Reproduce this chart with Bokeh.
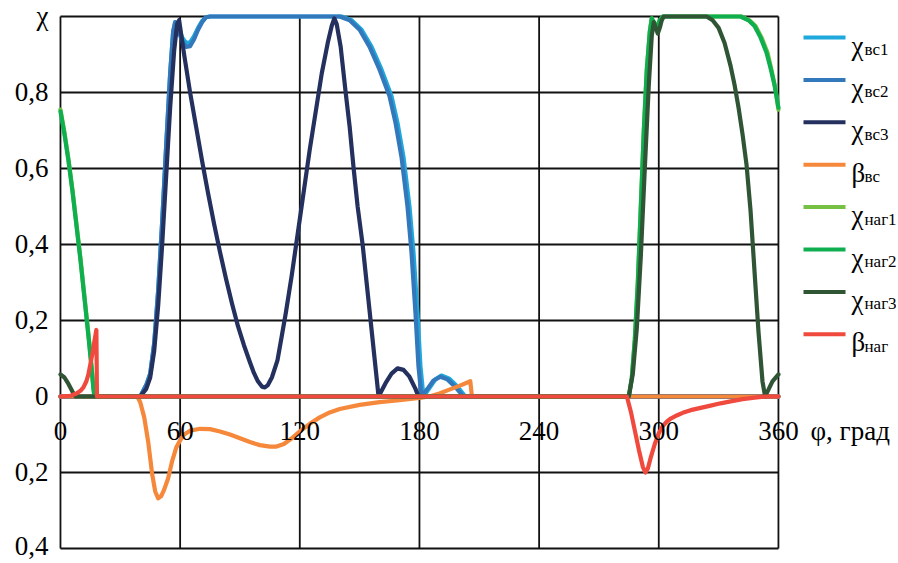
from bokeh.plotting import figure
from bokeh.models import Range1d, FixedTicker
from bokeh.core.properties import value
from bokeh.embed import file_html
from bokeh.resources import INLINE

# ---------------- data (phi in degrees, value) ----------------
x_ticks = [0, 60, 120, 180, 240, 300, 360]
x_tick_labels = ["0", "60", "120", "180", "240", "300", "360"]
y_ticks = [-0.4, -0.2, 0, 0.2, 0.4, 0.6, 0.8, 1.0]
y_tick_labels = ["0,4", "0,2", "0", "0,2", "0,4", "0,6", "0,8", "χ"]
x_axis_title = "φ, град"

chi_vs1 = [(0, 0), (40, 0), (43, 0.03), (45, 0.06), (47, 0.14), (49, 0.28), (51, 0.46), (53, 0.66),
           (55, 0.85), (56.5, 0.96), (57.5, 0.985), (59, 0.97), (61, 0.945), (63, 0.93), (65, 0.932),
           (67, 0.948), (69, 0.97), (71, 0.988), (73, 0.998), (75, 1.0), (141, 1.0), (146, 0.99),
           (151, 0.965), (156, 0.92), (161, 0.86), (166, 0.79), (169, 0.72), (172, 0.63), (175, 0.5),
           (177, 0.38), (179, 0.22), (180.5, 0.08), (182, 0.0), (185, 0.022), (188, 0.045), (191, 0.055),
           (195, 0.047), (199, 0.026), (203, 0.0), (360, 0)]
chi_vs2 = [(0, 0), (40, 0), (43, 0.03), (45, 0.06), (47, 0.14), (49, 0.28), (51, 0.46), (53, 0.66),
           (55, 0.85), (56.5, 0.96), (57.5, 0.985), (59, 0.965), (61, 0.935), (63, 0.92), (65, 0.922),
           (67, 0.94), (69, 0.965), (71, 0.985), (73, 0.998), (75, 1.0), (140, 1.0), (145, 0.99),
           (150, 0.965), (155, 0.92), (160, 0.86), (165, 0.79), (168, 0.72), (171, 0.63), (174, 0.5),
           (176, 0.38), (178, 0.22), (179.5, 0.08), (181, 0.0), (184, 0.02), (187, 0.042), (190.5, 0.052),
           (194, 0.045), (198, 0.025), (202, 0.0), (360, 0)]
chi_vs3 = [(0, 0), (40, 0), (43, 0.02), (45, 0.05), (47, 0.12), (49, 0.24), (51, 0.4), (53, 0.58),
           (55, 0.76), (57, 0.91), (58.5, 0.98), (59.5, 0.99), (62, 0.9), (65, 0.8), (68, 0.71),
           (71, 0.62), (74, 0.535), (77, 0.455), (80, 0.38), (83, 0.31), (86, 0.245), (89, 0.185),
           (92, 0.135), (95, 0.09), (97, 0.062), (99, 0.04), (101, 0.026), (102.5, 0.024), (104, 0.03),
           (106, 0.05), (108.8, 0.095), (111, 0.16), (113, 0.22), (116, 0.32), (119, 0.43), (122, 0.54),
           (125, 0.65), (128, 0.75), (131, 0.85), (134, 0.93), (136, 0.975), (137.3, 0.995), (138.5, 0.98),
           (140.5, 0.92), (143, 0.8), (145, 0.71), (147, 0.6), (149, 0.5), (151.5, 0.4), (153.5, 0.3),
           (155.5, 0.2), (157.5, 0.1), (159.5, 0.0), (163, 0.035), (166, 0.06), (169, 0.074), (172, 0.07),
           (175, 0.052), (178, 0.02), (179.5, 0.0), (360, 0)]
beta_vs = [(0, 0), (38.5, 0), (40, -0.015), (42, -0.055), (44, -0.12), (46, -0.205), (47.5, -0.25),
           (49, -0.268), (50.5, -0.262), (52, -0.245), (54, -0.215), (56, -0.17), (58, -0.135),
           (60, -0.115), (62, -0.1), (65, -0.09), (70, -0.085), (75, -0.086), (80, -0.092), (85, -0.1),
           (90, -0.11), (95, -0.12), (100, -0.128), (105, -0.132), (108, -0.132), (112, -0.125),
           (116, -0.11), (120, -0.092), (125, -0.072), (130, -0.055), (135, -0.042), (140, -0.033),
           (150, -0.022), (160, -0.015), (170, -0.01), (180, -0.004), (185, 0.0), (190, 0.008),
           (195, 0.018), (200, 0.028), (205.5, 0.04), (206.3, 0), (360, 0)]
chi_nag1 = [(0, 0.755), (2, 0.695), (4, 0.625), (6, 0.545), (8, 0.455), (10, 0.365), (12, 0.265),
            (14, 0.165), (15.5, 0.085), (16.5, 0.025), (17.2, 0), (285, 0), (286.5, 0.05), (288, 0.15),
            (289.5, 0.3), (291, 0.5), (292.5, 0.7), (294, 0.86), (295.5, 0.96), (296.5, 0.995),
            (297.5, 0.985), (298.5, 0.975), (299.5, 0.98), (300.5, 0.99), (302, 1.0), (341.5, 1.0),
            (345.5, 0.99), (348.5, 0.975), (351.5, 0.945), (354.5, 0.905), (356.5, 0.86), (358.5, 0.81),
            (360, 0.755)]
chi_nag2 = [(0, 0.75), (2, 0.69), (4, 0.62), (6, 0.54), (8, 0.45), (10, 0.36), (12, 0.26), (14, 0.16),
            (15.5, 0.08), (16.5, 0.02), (17, 0), (285, 0), (286.5, 0.05), (288, 0.15), (289.5, 0.3),
            (291, 0.5), (292.5, 0.7), (294, 0.86), (295.5, 0.96), (296.5, 0.995), (297.5, 0.985),
            (298.5, 0.97), (299.5, 0.975), (300.5, 0.99), (302, 1.0), (341, 1.0), (345, 0.99),
            (348, 0.975), (351, 0.945), (354, 0.905), (356, 0.865), (358, 0.82), (360, 0.76)]
chi_nag3 = [(0, 0.058), (2, 0.05), (4, 0.033), (6, 0.013), (7.5, 0), (285, 0), (287, 0.06), (289, 0.18),
            (291, 0.37), (293, 0.6), (295, 0.82), (296.5, 0.95), (297.5, 0.985), (298.5, 0.97),
            (299.5, 0.955), (300.5, 0.97), (301.5, 0.99), (302.5, 1.0), (324, 1.0), (327, 0.99),
            (330, 0.97), (333, 0.93), (336, 0.87), (338, 0.82), (340, 0.76), (342, 0.69), (344, 0.61),
            (346, 0.49), (348, 0.33), (350, 0.17), (352, 0.04), (353.3, 0), (355, 0.018), (357, 0.04),
            (360, 0.058)]
beta_nag = [(0, 0), (5, 0.002), (8, 0.008), (10, 0.015), (11.5, 0.024), (13, 0.04), (14, 0.058),
            (15, 0.085), (16, 0.112), (17, 0.145), (18, 0.175), (18.3, 0), (284, 0), (286, -0.04),
            (288, -0.09), (290, -0.14), (292, -0.185), (293.3, -0.2), (294.5, -0.19), (296, -0.16),
            (298, -0.125), (300, -0.097), (302, -0.078), (304, -0.066), (306, -0.058), (309, -0.05),
            (312, -0.043), (316, -0.036), (321, -0.03), (326, -0.024), (331, -0.018), (336, -0.013),
            (342, -0.007), (348, -0.003), (354, 0), (360, 0)]

series = [
    ("χ", "вс1", chi_vs1, "#1EA8DC"),
    ("χ", "вс2", chi_vs2, "#3478BC"),
    ("χ", "вс3", chi_vs3, "#24305E"),
    ("β", "вс", beta_vs, "#F5883A"),
    ("χ", "наг1", chi_nag1, "#76C043"),
    ("χ", "наг2", chi_nag2, "#0FAF50"),
    ("χ", "наг3", chi_nag3, "#2F5535"),
    ("β", "наг", beta_nag, "#F04A3E"),
]

# ---------------- layout ----------------
X0, X1 = -5.0, 419.2
Y0, Y1 = -0.4132, 1.021
FW, FH = 846, 545
SX = FW / (X1 - X0)
SY = FH / (Y1 - Y0)
LEFT, TOP = 50, 8  # picture position of the frame


def dx(px):
    return X0 + (px - LEFT) / SX


def dy(py):
    return Y1 - (py - TOP) / SY


FAMILY = "Liberation Serif"
FONT = value(FAMILY)

p = figure(frame_width=FW, frame_height=FH, x_range=Range1d(X0, X1), y_range=Range1d(Y0, Y1),
           output_backend="svg", toolbar_location=None, x_axis_location=None,
           min_border_left=LEFT, min_border_right=0, min_border_top=TOP, min_border_bottom=7)
p.outline_line_color = None
p.xgrid.grid_line_color = None
p.ygrid.grid_line_color = None
p.background_fill_color = "white"
p.border_fill_color = "white"

ax = p.yaxis[0]
ax.ticker = FixedTicker(ticks=y_ticks)
ax.major_label_overrides = {t: l for t, l in zip(y_ticks, y_tick_labels)}
ax.axis_line_color = None
ax.major_tick_line_color = None
ax.minor_tick_line_color = None
ax.major_tick_out = 0
ax.major_tick_in = 0
ax.major_label_standoff = 2
ax.major_label_text_font = FAMILY
ax.major_label_text_font_size = "27px"
ax.major_label_text_color = "black"

# grid / frame
p.segment(x0=x_ticks, y0=[y_ticks[0]] * len(x_ticks), x1=x_ticks, y1=[y_ticks[-1]] * len(x_ticks),
          line_color="#111111", line_width=1.8)
p.segment(x0=[x_ticks[0]] * len(y_ticks), y0=y_ticks, x1=[x_ticks[-1]] * len(y_ticks), y1=y_ticks,
          line_color="#111111", line_width=1.8)

# curves
for sym, sub, pts, col in series:
    xs = [a for a, b in pts]
    ys = [b for a, b in pts]
    p.line(xs, ys, line_color=col, line_width=4.2, line_join="round", line_cap="round")

# x tick labels at the zero line
p.text(x=x_ticks, y=[0] * len(x_ticks), text=x_tick_labels, text_font=FONT, text_font_size="27px",
       text_align="center", text_baseline="alphabetic", y_offset=35, text_color="black")
p.text(x=[dx(810)], y=[0], text=[x_axis_title], text_font=FONT, text_font_size="27px",
       text_align="left", text_baseline="alphabetic", y_offset=35, text_color="black")

# legend
rows = [dy(37 + 42.4 * i) for i in range(len(series))]
p.segment(x0=[dx(803)] * len(series), y0=rows, x1=[dx(845)] * len(series), y1=rows,
          line_color=[s[3] for s in series], line_width=4)
p.text(x=[dx(851)] * len(series), y=rows, text=[s[0] for s in series], text_font=FONT,
       text_font_size="27px", text_align="left", text_baseline="alphabetic", y_offset=8,
       text_color="black")
p.text(x=[dx(864)] * len(series), y=rows, text=[s[1] for s in series], text_font=FONT,
       text_font_size="17px", text_align="left", text_baseline="alphabetic", y_offset=12,
       text_color="black")

open("out.html", "w").write(file_html(p, INLINE))
